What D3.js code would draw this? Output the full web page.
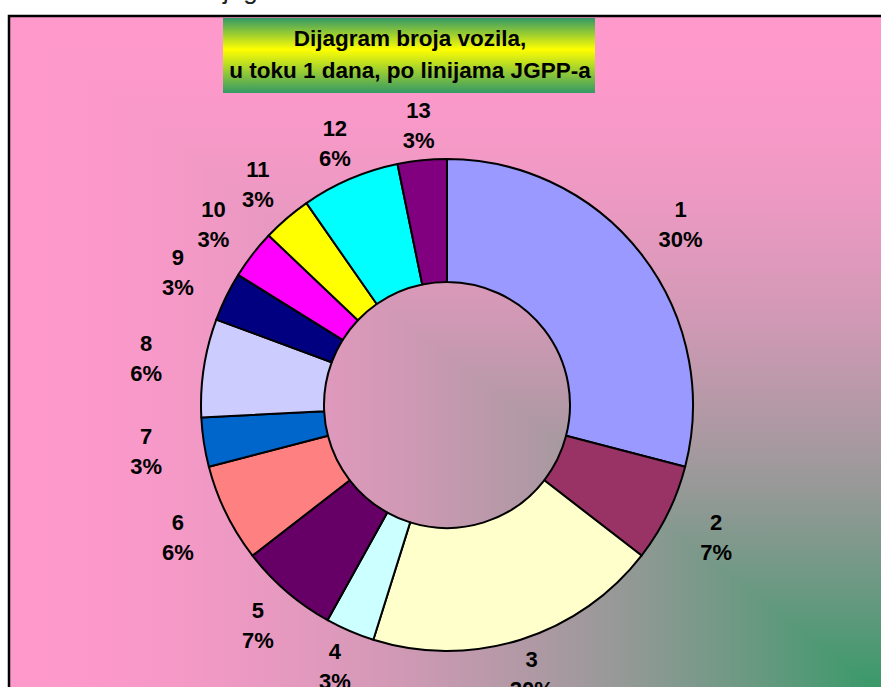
<!DOCTYPE html>
<html><head><meta charset="utf-8">
<script src="https://cdn.jsdelivr.net/npm/d3@7"></script>
<style>html,body{margin:0;padding:0;background:#fff;overflow:hidden}</style>
</head><body>
<svg id="c" width="881" height="687"></svg>
<script>
// ---- data ----
const lineNames = ["1","2","3","4","5","6","7","8","9","10","11","12","13"];
const vehicles = [9, 2, 6, 1, 2, 2, 1, 2, 1, 1, 1, 2, 1];
const percentLabels = ["30%","7%","20%","3%","7%","6%","3%","6%","3%","3%","3%","6%","3%"];
const sliceColors = ["#9999FF","#993366","#FFFFCC","#CCFFFF","#660066","#FF8080","#0066CC","#CCCCFF","#000080","#FF00FF","#FFFF00","#00FFFF","#800080"];
const titleLines = ["Dijagram broja vozila,", "u toku 1 dana, po linijama JGPP-a"];

// ---- layout ----
const W = 881, H = 687;
const frame = {x: 9, y: 16, w: 881, h: 684};
const cx = 447, cy = 405, R = 246, r0 = 123;
const labelRx = 305, labelRy = 281;
const font = "'Liberation Sans', Arial, Helvetica, sans-serif";

const svg = d3.select("#c");
const defs = svg.append("defs");

// background gradient "from corner": t = f(min(u, v))
const pink = "#FF99CC", green = "#339966";
const interp = d3.interpolateRgb(pink, green);
const stopsData = d3.range(0, 1.0001, 0.05);
function addGrad(id, x1, y1, x2, y2) {
  const g = defs.append("linearGradient").attr("id", id)
    .attr("gradientUnits", "userSpaceOnUse")
    .attr("x1", x1).attr("y1", y1).attr("x2", x2).attr("y2", y2);
  g.selectAll("stop").data(stopsData).join("stop")
    .attr("offset", d => d)
    .attr("stop-color", d => interp(Math.pow(d, 1.8)));
}
addGrad("gx", frame.x, 0, frame.x + frame.w, 0);
addGrad("gy", 0, frame.y, 0, frame.y + frame.h);

const tg = defs.append("linearGradient").attr("id", "tg")
  .attr("x1", 0).attr("y1", 0).attr("x2", 0).attr("y2", 1);
tg.append("stop").attr("offset", 0).attr("stop-color", green);
tg.append("stop").attr("offset", 0.42).attr("stop-color", "#FFFF00");
tg.append("stop").attr("offset", 1).attr("stop-color", green);

// white page
svg.append("rect").attr("width", W).attr("height", H).attr("fill", "#fff");

// partially visible heading text above the frame
svg.append("text").attr("x", 223).attr("y", -1.5)
  .attr("font-family", font).attr("font-size", 26).attr("fill", "#222")
  .text("jagram");

// chart area background
svg.append("rect").attr("x", frame.x).attr("y", frame.y)
  .attr("width", frame.w).attr("height", frame.h).attr("fill", "url(#gx)");
const diagEndX = frame.x + frame.w, diagEndY = frame.y + frame.h;
svg.append("polygon")
  .attr("points", [[frame.x, frame.y], [diagEndX, frame.y], [diagEndX, diagEndY]].map(p => p.join(",")).join(" "))
  .attr("fill", "url(#gy)");
svg.append("rect").attr("x", frame.x).attr("y", frame.y)
  .attr("width", frame.w + 10).attr("height", frame.h + 10)
  .attr("fill", "none").attr("stroke", "#000").attr("stroke-width", 2.5);

// title box
const tb = {x: 223, y: 18, w: 372, h: 75};
svg.append("rect").attr("x", tb.x).attr("y", tb.y).attr("width", tb.w).attr("height", tb.h)
  .attr("fill", "url(#tg)");
svg.append("g").selectAll("text").data(titleLines).join("text")
  .attr("x", tb.x + tb.w / 2 + 1).attr("y", (d, i) => 46 + i * 31.5)
  .attr("text-anchor", "middle")
  .attr("font-family", font).attr("font-weight", "bold").attr("font-size", 22.5)
  .attr("fill", "#000").text(d => d);

// donut
const data = lineNames.map((n, i) => ({name: n, value: vehicles[i], label: percentLabels[i], color: sliceColors[i]}));
const pie = d3.pie().value(d => d.value).sort(null).startAngle(0).endAngle(2 * Math.PI);
const arcs = pie(data);
const arc = d3.arc().innerRadius(r0).outerRadius(R);
const g = svg.append("g").attr("transform", `translate(${cx},${cy})`);
g.selectAll("path").data(arcs).join("path")
  .attr("d", arc)
  .attr("fill", d => d.data.color)
  .attr("stroke", "#000").attr("stroke-width", 2).attr("stroke-linejoin", "round");

// labels
const lg = g.append("g").attr("font-family", font).attr("font-weight", "bold")
  .attr("font-size", 22).attr("fill", "#000").attr("text-anchor", "middle");
arcs.forEach(a => {
  const m = (a.startAngle + a.endAngle) / 2;
  const s = Math.sin(m), c = Math.cos(m);
  const rr = 1 / Math.sqrt((s / labelRx) ** 2 + (c / labelRy) ** 2);
  const x = rr * s, y = -rr * c;
  lg.append("text").attr("x", x).attr("y", y - 7.5).text(a.data.name);
  lg.append("text").attr("x", x).attr("y", y + 22.5).text(a.data.label);
});
</script>
</body></html>
